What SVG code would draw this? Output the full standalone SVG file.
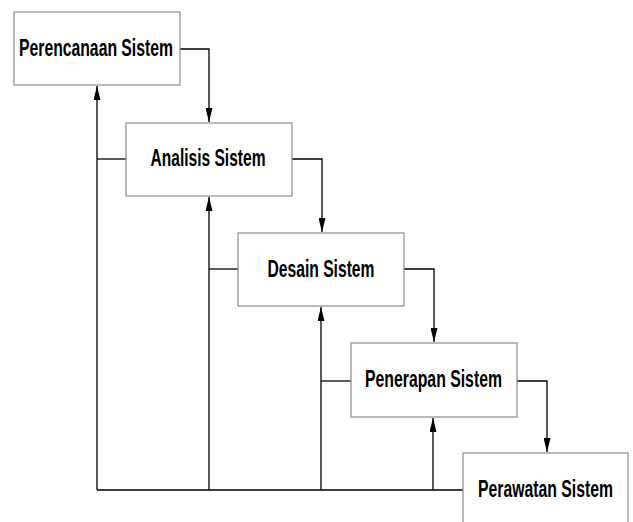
<svg xmlns="http://www.w3.org/2000/svg" width="633" height="522" viewBox="0 0 633 522">
<style>
.box{fill:#fff;stroke:#8c8c8c;stroke-width:1.2}
.lbl{font-family:"Liberation Sans",Arial,sans-serif;font-weight:bold;font-size:23px;fill:#000;text-anchor:middle}
.ln{fill:none;stroke:#000;stroke-width:1.3}
</style>
<defs>
<marker id="ah" markerUnits="userSpaceOnUse" markerWidth="14" markerHeight="7" refX="14" refY="3.5" orient="auto">
<path d="M0,0 L14,3.5 L0,7 z" fill="#000"/>
</marker>
</defs>
<rect width="633" height="522" fill="#fff"/>
<g id="connectors">
<path class="ln" d="M180,49 H209 V122" marker-end="url(#ah)"/>
<path class="ln" d="M292,159 H322 V232" marker-end="url(#ah)"/>
<path class="ln" d="M404,269 H434 V342" marker-end="url(#ah)"/>
<path class="ln" d="M517,381 H547 V452" marker-end="url(#ah)"/>
<path class="ln" d="M463,490 H97"/>
<path class="ln" d="M97,490 V86" marker-end="url(#ah)"/>
<path class="ln" d="M209,490 V197" marker-end="url(#ah)"/>
<path class="ln" d="M321,490 V307" marker-end="url(#ah)"/>
<path class="ln" d="M433,490 V418" marker-end="url(#ah)"/>
<path class="ln" d="M97,159 H126"/>
<path class="ln" d="M209,269 H238"/>
<path class="ln" d="M321,381 H351"/>
</g>
<g id="perencanaan">
<rect class="box" x="14" y="12" width="166" height="73"/>
<text class="lbl" x="96" y="56" textLength="154" lengthAdjust="spacingAndGlyphs">Perencanaan Sistem</text>
</g>
<g id="analisis">
<rect class="box" x="126" y="123" width="166" height="73"/>
<text class="lbl" x="208" y="166" textLength="115" lengthAdjust="spacingAndGlyphs">Analisis Sistem</text>
</g>
<g id="desain">
<rect class="box" x="238" y="233" width="166" height="73"/>
<text class="lbl" x="321" y="277" textLength="107" lengthAdjust="spacingAndGlyphs">Desain Sistem</text>
</g>
<g id="penerapan">
<rect class="box" x="351" y="343" width="166" height="74"/>
<text class="lbl" x="433.5" y="387" textLength="137" lengthAdjust="spacingAndGlyphs">Penerapan Sistem</text>
</g>
<g id="perawatan">
<rect class="box" x="463" y="453" width="165" height="74"/>
<text class="lbl" x="545.5" y="497" textLength="135" lengthAdjust="spacingAndGlyphs">Perawatan Sistem</text>
</g>
</svg>
